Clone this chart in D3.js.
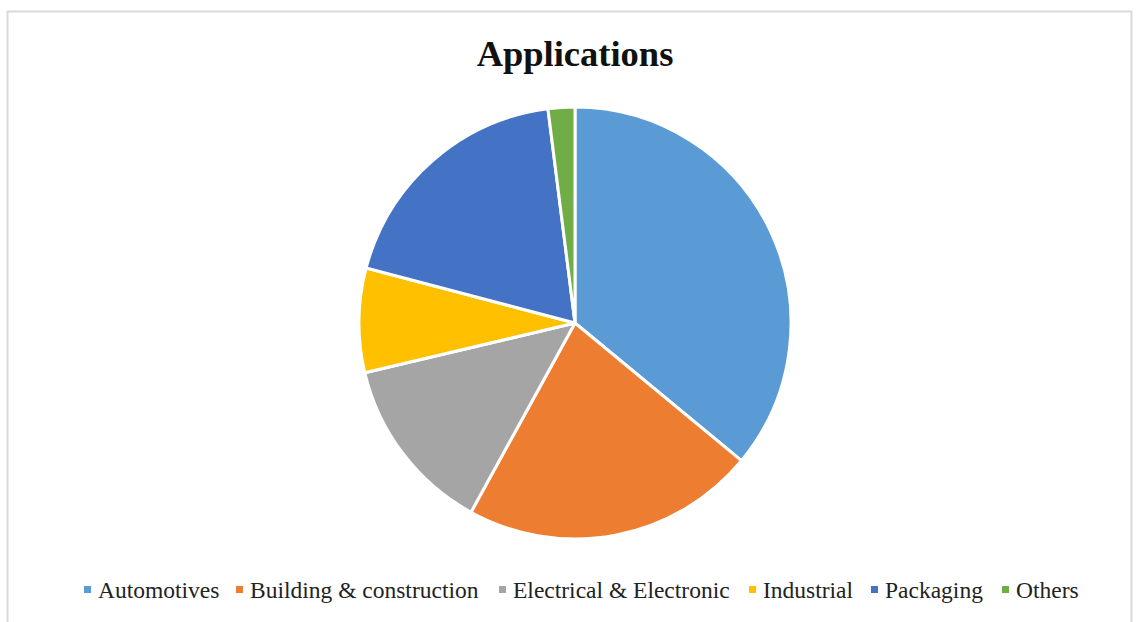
<!DOCTYPE html>
<html><head><meta charset="utf-8">
<script src="https://cdn.jsdelivr.net/npm/d3@7"></script>
<style>body{margin:0;background:#fff}svg{display:block}</style>
</head><body>
<script>
const categories = ["Automotives","Building & construction","Electrical & Electronic","Industrial","Packaging","Others"];
const values = [36, 22, 13.3, 7.8, 18.9, 2];
const colors = ["#5B9BD5","#ED7D31","#A5A5A5","#FFC000","#4472C4","#70AD47"];
const title = "Applications";

const W = 1139, H = 622;
const svg = d3.select("body").append("svg").attr("width", W).attr("height", H);
svg.append("rect").attr("x", 7.5).attr("y", 11.5).attr("width", 1124).attr("height", 620)
  .attr("fill", "#fff").attr("stroke", "#d9d9d9").attr("stroke-width", 2);

svg.append("text").attr("x", 575).attr("y", 66).attr("text-anchor", "middle")
  .attr("font-family", "Liberation Serif, Times New Roman, serif").attr("font-weight", "bold")
  .attr("font-size", 36.5).attr("fill", "#111").text(title);

const cx = 575, cy = 323, r = 216;
const pie = d3.pie().sort(null).value(d => d)(values);
const arc = d3.arc().innerRadius(0).outerRadius(r);
svg.append("g").attr("transform", `translate(${cx},${cy})`)
  .selectAll("path").data(pie).join("path")
  .attr("d", arc).attr("fill", (d, i) => colors[i])
  .attr("stroke", "#fff").attr("stroke-width", 3).attr("stroke-linejoin", "round");

const legendX = [98, 250, 513, 763, 885, 1016];
const lg = svg.append("g").attr("font-family", "Liberation Serif, Times New Roman, serif").attr("font-size", 23.5).attr("fill", "#222");
categories.forEach((c, i) => {
  lg.append("rect").attr("x", legendX[i] - 14).attr("y", 586).attr("width", 7).attr("height", 7).attr("fill", colors[i]);
  lg.append("text").attr("x", legendX[i]).attr("y", 598).text(c);
});
</script>
</body></html>
